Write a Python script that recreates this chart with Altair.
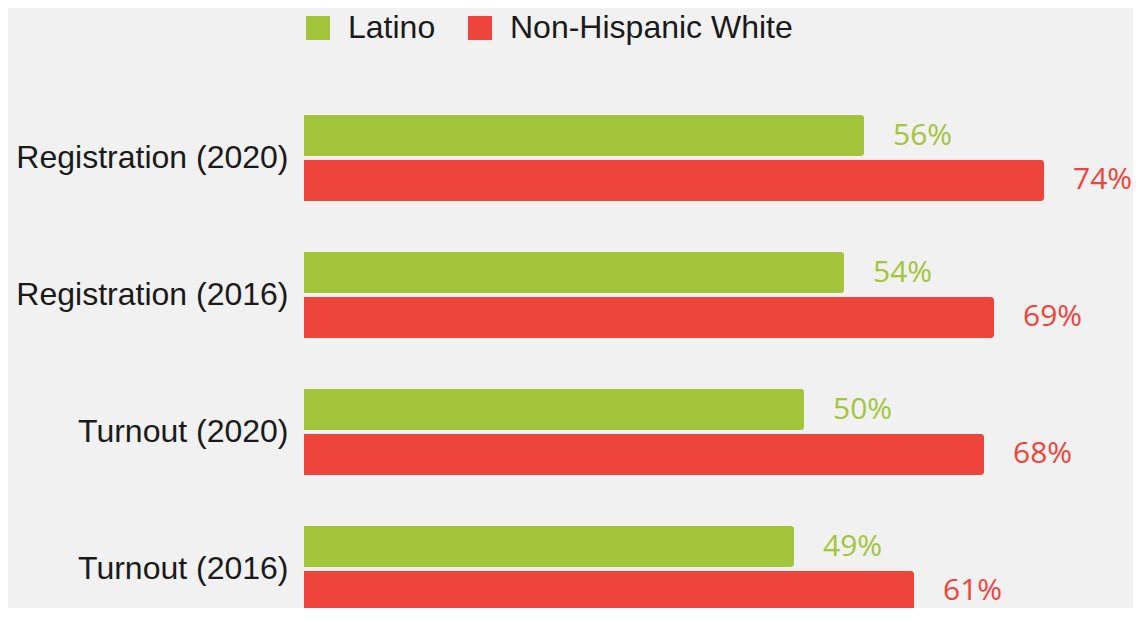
import altair as alt
import pandas as pd

categories = ["Registration (2020)", "Registration (2016)", "Turnout (2020)", "Turnout (2016)"]
latino = [56, 54, 50, 49]
white = [74, 69, 68, 61]
series = ["Latino", "Non-Hispanic White"]
colors = ["#a2c53c", "#ef443b"]

rows = []
for c, l, w in zip(categories, latino, white):
    rows.append({"measure": c, "group": series[0], "value": l, "label": f"{l}%"})
    rows.append({"measure": c, "group": series[1], "value": w, "label": f"{w}%"})
df = pd.DataFrame(rows)

W = 829
H = 600

base = alt.Chart(df).encode(
    y=alt.Y("measure:N", sort=categories,
            scale=alt.Scale(range=[81.5, 629.5], paddingInner=0, paddingOuter=0),
            axis=alt.Axis(title=None, domain=False, ticks=False, labelFontSize=32,
                          labelPadding=16, labelColor="#1a1a1a", labelFont="Liberation Sans",
                          labelLimit=400)),
    yOffset=alt.YOffset("group:N", sort=series,
                        scale=alt.Scale(paddingInner=0.0889, paddingOuter=0.5667)),
    x=alt.X("value:Q", scale=alt.Scale(domain=[0, W / 10], nice=False, zero=True), axis=None),
)

bars = base.mark_bar(cornerRadiusEnd=3).encode(
    color=alt.Color("group:N", scale=alt.Scale(domain=series, range=colors),
                    legend=alt.Legend(orient="none", legendX=-2, legendY=4, direction="horizontal",
                                      title=None, symbolType="square", symbolSize=576,
                                      symbolStrokeWidth=0, labelFontSize=32,
                                      labelFont="Liberation Sans", labelColor="#1a1a1a",
                                      labelOffset=14, columnPadding=28, padding=0,
                                      labelLimit=500))
)

labels = base.mark_text(align="left", baseline="middle", dx=29, font="Open Sans", fontSize=30).encode(
    text="label:N",
    color=alt.Color("group:N", scale=alt.Scale(domain=series, range=colors)),
)

chart = alt.layer(bars, labels).properties(
    width=W, height=H,
    autosize=alt.AutoSizeParams(type="none"),
    padding={"left": 296, "top": 0, "right": 0, "bottom": 0},
    background="#f1f1f1",
).configure_view(stroke=None)

chart.save("out.html", embed_options={"renderer": "svg", "actions": False})
